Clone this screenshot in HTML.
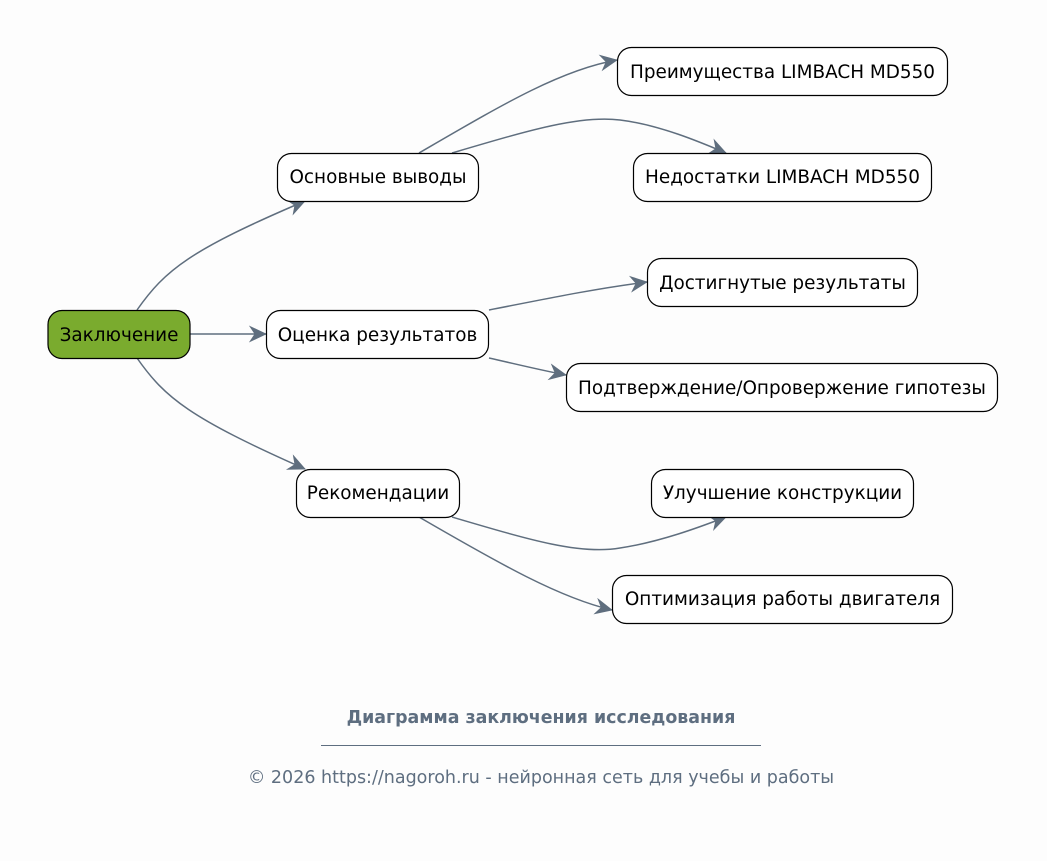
<!DOCTYPE html>
<html><head><meta charset="utf-8"><style>
html,body{margin:0;padding:0;background:#fdfdfd;}
svg{display:block;}
text{font-family:"DejaVu Sans","Liberation Sans",sans-serif;}
</style></head><body>
<svg width="1047" height="861" viewBox="0 0 1047 861" xmlns="http://www.w3.org/2000/svg">
<rect width="1047" height="861" fill="#fdfdfd"/>
<defs>
<marker id="a" markerUnits="userSpaceOnUse" markerWidth="24" markerHeight="24" refX="18" refY="10" orient="auto">
<path d="M2,2.5 L18,10 L2,17.5 L7,10 Z" fill="#5f6e7e" stroke="#5f6e7e" stroke-width="0.8" stroke-linejoin="miter"/>
</marker>
</defs>
<g fill="none" stroke="#5f6e7e" stroke-width="1.5" marker-end="url(#a)">
<path d="M137,310 C165,270 190,250 305,201"/>
<path d="M190,334 L266,334"/>
<path d="M137,358 C165,398 190,418 305,469"/>
<path d="M419,153 C500,106 560,70 617,60"/>
<path d="M452,153 C530,130 580,115 620,120 C660,125 700,142 726,153"/>
<path d="M489,310 C560,296 600,288 647,282"/>
<path d="M489,358 C520,365 540,370 566,375"/>
<path d="M452,517 C530,540 580,555 620,548 C660,542 700,527 726,517"/>
<path d="M419,517 C500,564 560,598 612,610"/>
</g>
<g stroke="#000" stroke-width="1.2">
<rect x="48" y="310.5" width="142" height="48" rx="14" fill="#7aab2e"/>
<rect x="277.5" y="153.5" width="201" height="48" rx="14" fill="#fff"/>
<rect x="266.5" y="310.5" width="222" height="48" rx="14" fill="#fff"/>
<rect x="296.5" y="469.5" width="163" height="48" rx="14" fill="#fff"/>
<rect x="617.5" y="47.5" width="330" height="48" rx="14" fill="#fff"/>
<rect x="633.5" y="153.5" width="298" height="48" rx="14" fill="#fff"/>
<rect x="647.5" y="258.5" width="270" height="48" rx="14" fill="#fff"/>
<rect x="566.5" y="363.5" width="431" height="48" rx="14" fill="#fff"/>
<rect x="651.5" y="469.5" width="262" height="48" rx="14" fill="#fff"/>
<rect x="612.5" y="575.5" width="340" height="48" rx="14" fill="#fff"/>
</g>
<g font-size="18.4" fill="#000" text-anchor="middle">
<text x="119" y="341">Заключение</text>
<text x="378" y="183">Основные выводы</text>
<text x="377.5" y="341">Оценка результатов</text>
<text x="378" y="499">Рекомендации</text>
<text x="782.5" y="78">Преимущества LIMBACH MD550</text>
<text x="782.5" y="183">Недостатки LIMBACH MD550</text>
<text x="782.5" y="289">Достигнутые результаты</text>
<text x="782" y="394">Подтверждение/Опровержение гипотезы</text>
<text x="782.5" y="499">Улучшение конструкции</text>
<text x="782.5" y="605">Оптимизация работы двигателя</text>
</g>
<text x="541" y="723" font-size="17.4" font-weight="bold" fill="#5e6e80" text-anchor="middle">Диаграмма заключения исследования</text>
<line x1="321" y1="745.5" x2="761" y2="745.5" stroke="#5e6e80" stroke-width="1"/>
<text x="541" y="783" font-size="17.5" fill="#5e6e80" text-anchor="middle">© 2026 https://nagoroh.ru - нейронная сеть для учебы и работы</text>
</svg>
</body></html>
